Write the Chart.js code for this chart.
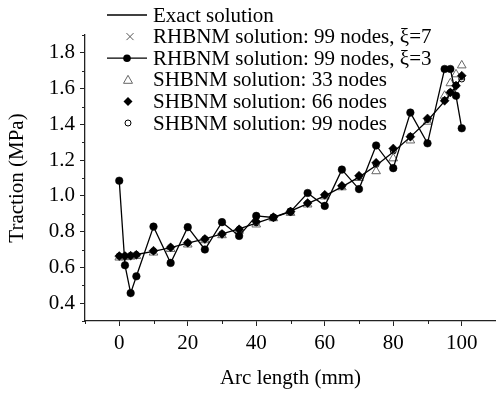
<!DOCTYPE html>
<html>
<head>
<meta charset="utf-8">
<script src="https://cdn.jsdelivr.net/npm/chart.js@4/dist/chart.umd.min.js"></script>
<style>
html,body{margin:0;padding:0;background:#fff;overflow:hidden;}
#wrap{width:496px;height:394px;position:relative;}
</style>
</head>
<body>
<div id="wrap"><canvas id="c" width="496" height="394"></canvas></div>
<script>
// ---- data ----
const arcX = [0, 1.67, 3.33, 5, 10, 15, 20, 25, 30, 35, 40, 45, 50, 55, 60, 65, 70, 75, 80, 85, 90, 95, 96.67, 98.33, 100];
const exact = [0.663,0.665,0.668,0.672,0.69,0.71,0.735,0.76,0.787,0.815,0.848,0.88,0.915,0.957,1.0,1.05,1.105,1.17,1.245,1.33,1.42,1.53,1.57,1.615,1.665];
const rhbnm7 = [0.662,0.664,0.667,0.671,0.692,0.712,0.737,0.758,0.789,0.812,0.85,0.882,0.914,0.958,1.003,1.052,1.108,1.175,1.25,1.335,1.425,1.535,1.575,1.62,1.66];
const rhbnm3 = [1.085,0.612,0.456,0.55,0.828,0.625,0.825,0.70,0.853,0.776,0.888,0.879,0.912,1.016,0.944,1.147,1.038,1.282,1.155,1.466,1.294,1.71,1.71,1.56,1.378];
const shbnm33 = [0.655,0.657,0.66,0.664,0.683,0.703,0.728,0.752,0.78,0.805,0.84,0.875,0.905,0.952,0.997,1.048,1.1,1.138,1.21,1.31,1.415,1.56,1.63,1.68,1.73];
const shbnm66 = [0.663,0.663,0.665,0.67,0.693,0.712,0.738,0.759,0.787,0.813,0.856,0.881,0.912,0.96,1.006,1.057,1.113,1.185,1.265,1.331,1.433,1.532,1.579,1.616,1.672];
const shbnm99 = [0.664,0.665,0.667,0.672,0.691,0.711,0.736,0.76,0.788,0.814,0.849,0.881,0.914,0.958,1.002,1.052,1.107,1.176,1.252,1.333,1.427,1.536,1.58,1.62,1.654];
const seriesLabels = ['Exact solution','RHBNM solution: 99 nodes, \u03BE=7','RHBNM solution: 99 nodes, \u03BE=3','SHBNM solution: 33 nodes','SHBNM solution: 66 nodes','SHBNM solution: 99 nodes'];
const xTickLabels = [0,20,40,60,80,100];
const yTickLabels = [0.4,0.6,0.8,1.0,1.2,1.4,1.6,1.8];
const xTitle = 'Arc length (mm)';
const yTitle = 'Traction (MPa)';

const pts = arr => arr.map((v,i)=>({x:arcX[i], y:v}));
const FONT = 'Liberation Serif, Times New Roman, serif';
const FS = 21;

const datasets = [
  {label:seriesLabels[0], data:pts(exact), showLine:true, borderColor:'#000', borderWidth:1.3, pointRadius:0, order:3},
  {label:seriesLabels[1], data:pts(rhbnm7), showLine:false, pointStyle:'crossRot', pointRadius:3.5, borderColor:'#555', borderWidth:1, order:5},
  {label:seriesLabels[2], data:pts(rhbnm3), showLine:true, borderColor:'#000', borderWidth:1.3, pointStyle:'circle', pointRadius:3.8, pointBackgroundColor:'#000', pointBorderColor:'#000', pointBorderWidth:0.5, order:2},
  {label:seriesLabels[3], data:pts(shbnm33), showLine:false, pointStyle:'triangle', pointRadius:5, borderColor:'#666', backgroundColor:'rgba(0,0,0,0)', borderWidth:1, order:4},
  {label:seriesLabels[4], data:pts(shbnm66), showLine:false, pointStyle:'rectRot', pointRadius:4.5, borderColor:'#000', backgroundColor:'#000', borderWidth:0.5, order:1},
  {label:seriesLabels[5], data:pts(shbnm99), showLine:false, pointStyle:'circle', pointRadius:3, borderColor:'#000', backgroundColor:'rgba(255,255,255,0)', borderWidth:1, order:6}
];

const isMajorX = v => xTickLabels.includes(Math.round(v));
const isMajorY = v => yTickLabels.some(t => Math.abs(t - v) < 1e-6);

const minorTicks = {
  id:'minorTicks',
  afterDraw(chart){
    const ctx = chart.ctx, xs = chart.scales.x, ys = chart.scales.y;
    ctx.save();
    ctx.strokeStyle = '#222'; ctx.lineWidth = 1;
    for (let v = -10; v <= 110; v += 20){
      const px = Math.round(xs.getPixelForValue(v)) + 0.5;
      ctx.beginPath(); ctx.moveTo(px, xs.top); ctx.lineTo(px, xs.top + 3); ctx.stroke();
    }
    for (let k = 3; k <= 19; k += 2){
      const py = Math.round(ys.getPixelForValue(k/10)) + 0.5;
      ctx.beginPath(); ctx.moveTo(ys.right, py); ctx.lineTo(ys.right - 3, py); ctx.stroke();
    }
    ctx.restore();
  }
};

const legendPlugin = {
  id:'customLegend',
  afterDraw(chart){
    const ctx = chart.ctx;
    const sx = 128, tx = 153, y0 = 15, dy = 21.6;
    ctx.save();
    ctx.font = FS + 'px ' + FONT;
    ctx.fillStyle = '#000';
    ctx.textBaseline = 'middle';
    ctx.textAlign = 'left';
    seriesLabels.forEach((lab,i)=>{
      const y = y0 + i*dy;
      ctx.fillText(lab, tx, y + 1);
    });
    let y = y0;
    ctx.strokeStyle = '#000'; ctx.lineWidth = 1.3;
    ctx.beginPath(); ctx.moveTo(107, y); ctx.lineTo(147, y); ctx.stroke();
    y = y0 + dy;
    ctx.strokeStyle = '#555'; ctx.lineWidth = 1;
    ctx.beginPath(); ctx.moveTo(sx+2-3.5,y-3.5); ctx.lineTo(sx+2+3.5,y+3.5); ctx.moveTo(sx+2+3.5,y-3.5); ctx.lineTo(sx+2-3.5,y+3.5); ctx.stroke();
    y = y0 + 2*dy;
    ctx.strokeStyle = '#000'; ctx.lineWidth = 1.3;
    ctx.beginPath(); ctx.moveTo(107, y); ctx.lineTo(147, y); ctx.stroke();
    ctx.fillStyle = '#000';
    ctx.beginPath(); ctx.arc(sx-1, y, 3.8, 0, Math.PI*2); ctx.fill();
    y = y0 + 3*dy;
    ctx.strokeStyle = '#666'; ctx.lineWidth = 1;
    ctx.beginPath(); ctx.moveTo(sx, y-4.5); ctx.lineTo(sx+4.5, y+3.5); ctx.lineTo(sx-4.5, y+3.5); ctx.closePath(); ctx.stroke();
    y = y0 + 4*dy;
    ctx.fillStyle = '#000';
    ctx.beginPath(); ctx.moveTo(sx, y-4.5); ctx.lineTo(sx+4.5, y); ctx.lineTo(sx, y+4.5); ctx.lineTo(sx-4.5, y); ctx.closePath(); ctx.fill();
    y = y0 + 5*dy;
    ctx.strokeStyle = '#000'; ctx.lineWidth = 1;
    ctx.beginPath(); ctx.arc(sx, y, 3, 0, Math.PI*2); ctx.stroke();
    ctx.restore();
  }
};

new Chart(document.getElementById('c'), {
  type:'scatter',
  data:{datasets},
  options:{
    responsive:false,
    animation:false,
    layout:{autoPadding:false, padding:{left:0, right:0, top:35, bottom:0}},
    plugins:{legend:{display:false}, tooltip:{enabled:false}},
    scales:{
      x:{
        type:'linear', min:-10, max:110,
        afterFit(s){ s.height = 73; s.paddingLeft = 0; s.paddingRight = 0; },
        border:{display:true, color:'#222', width:1.3},
        grid:{display:true, drawOnChartArea:false, drawTicks:true, tickLength:5,
              tickColor: c => isMajorX(c.tick.value) ? '#222' : 'rgba(0,0,0,0)', tickWidth:1},
        ticks:{stepSize:10, autoSkip:false, maxRotation:0, padding:5, color:'#000',
               font:{family:FONT, size:FS},
               callback: v => isMajorX(v) ? String(Math.round(v)) : ''},
        title:{display:true, text:xTitle, color:'#000', font:{family:FONT, size:FS}, padding:{top:0, bottom:3}}
      },
      y:{
        type:'linear', min:0.3, max:1.9,
        afterFit(s){ s.width = 85; s.paddingTop = 0; s.paddingBottom = 0; },
        border:{display:true, color:'#222', width:1.3},
        grid:{display:true, drawOnChartArea:false, drawTicks:true, tickLength:5,
              tickColor: c => isMajorY(c.tick.value) ? '#222' : 'rgba(0,0,0,0)', tickWidth:1},
        ticks:{stepSize:0.1, autoSkip:false, padding:5, color:'#000',
               font:{family:FONT, size:FS},
               callback: v => isMajorY(v) ? v.toFixed(1) : ''},
        title:{display:true, text:yTitle, color:'#000', font:{family:FONT, size:FS}, padding:{top:5, bottom:0}}
      }
    }
  },
  plugins:[minorTicks, legendPlugin]
});
</script>
</body>
</html>
